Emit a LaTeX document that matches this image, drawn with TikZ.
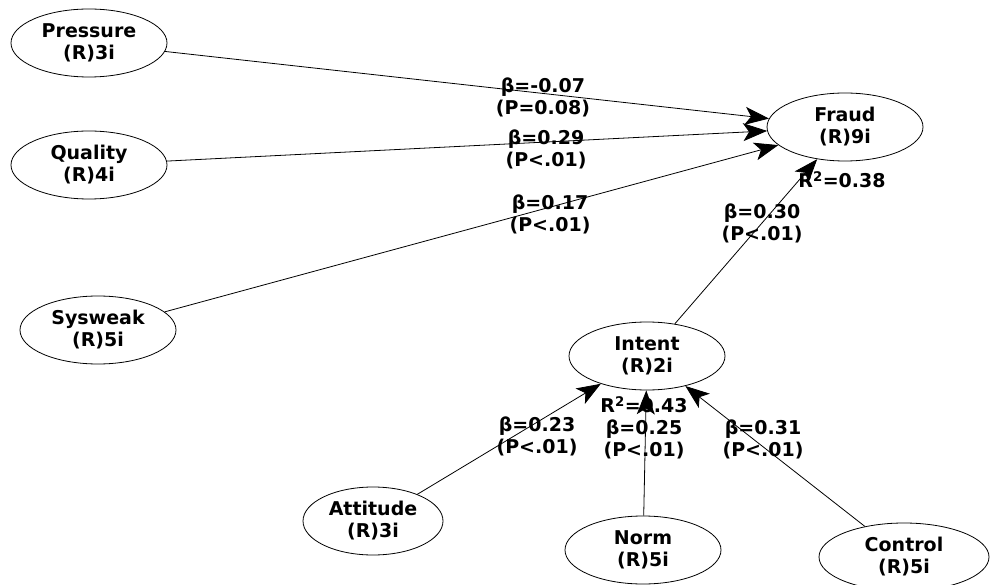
\documentclass[tikz,border=0pt]{standalone}
\usepackage{fontspec}
\setmainfont{DejaVu Sans}
\usetikzlibrary{shapes.geometric}
\usetikzlibrary{arrows.meta}

\tikzset{
  latent/.style={ellipse,draw,line width=0.8pt,minimum width=156pt,minimum height=68pt,inner sep=0pt,align=center,font=\bfseries\fontsize{19}{22}\selectfont},
  coef/.style={align=center,inner sep=0pt,font=\bfseries\fontsize{19}{22}\selectfont},
  effect/.style={-{Stealth[length=24pt,width=18pt,inset=6pt]},line width=0.8pt}
}

\begin{document}
\begin{tikzpicture}[x=1pt,y=-1pt]
\useasboundingbox (0,0) rectangle (990,585);
\fill[white] (0,0) rectangle (990,585);

% Latent variables
\node[latent] (pressure) at (89,43)  {Pressure\\(R)3i};
\node[latent] (quality)  at (89,165) {Quality\\(R)4i};
\node[latent] (sysweak)  at (98,330) {Sysweak\\(R)5i};
\node[latent] (fraud)    at (845,127) {Fraud\\(R)9i};
\node[latent] (intent)   at (647,356) {Intent\\(R)2i};
\node[latent, minimum width=140pt] (attitude) at (373,521) {Attitude\\(R)3i};
\node[latent] (norm)     at (643,550) {Norm\\(R)5i};
\node[latent, minimum width=170pt] (control)  at (904,557) {Control\\(R)5i};

% Paths
\draw[effect] (pressure) -- (fraud);
\draw[effect] (quality) -- (fraud);
\draw[effect] (sysweak) -- (fraud);
\draw[effect] (intent) -- (fraud);
\draw[effect] (attitude) -- (intent);
\draw[effect] (norm) -- (intent);
\draw[effect] (control) -- (intent);

% Coefficients
\node[coef] (c1) at (543,97)  {β=-0.07\\(P=0.08)};
\node[coef] (c2) at (546,149) {β=0.29\\(P<.01)};
\node[coef] (c3) at (550,214) {β=0.17\\(P<.01)};
\node[coef] (c4) at (762,223) {β=0.30\\(P<.01)};
\node[coef] (c5) at (537,436) {β=0.23\\(P<.01)};
\node[coef] (c6) at (644,428) {R\textsuperscript{2}=0.43\\β=0.25\\(P<.01)};
\node[coef] (c7) at (763,439) {β=0.31\\(P<.01)};
\node[coef] (r1) at (842,180) {R\textsuperscript{2}=0.38};

\end{tikzpicture}
\end{document}
